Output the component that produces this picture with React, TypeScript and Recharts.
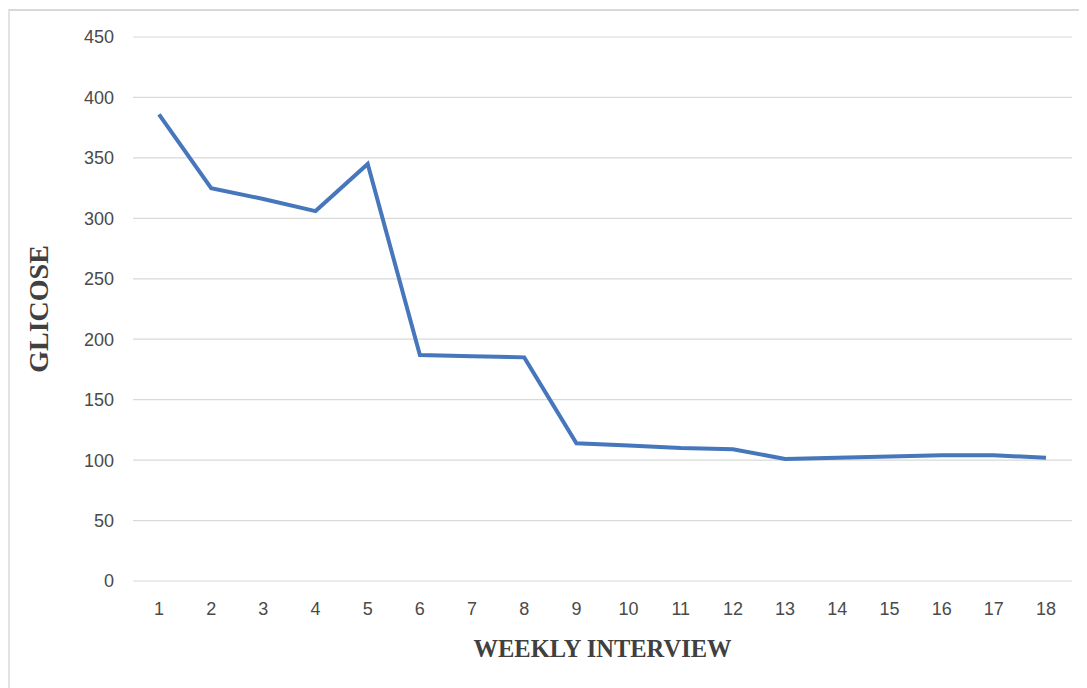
import { LineChart, Line, XAxis, YAxis, CartesianGrid, Label } from "recharts";

const WEEKS = [
  "1", "2", "3", "4", "5", "6", "7", "8", "9",
  "10", "11", "12", "13", "14", "15", "16", "17", "18",
];
const GLICOSE = [
  386, 325, 316, 306, 345, 187, 186, 185, 114,
  112, 110, 109, 101, 102, 103, 104, 104, 102,
];
const Y_TICKS = [0, 50, 100, 150, 200, 250, 300, 350, 400, 450];

const tickStyle = { fontSize: 18, fill: "#4a4a4a", fontFamily: "'Liberation Sans', Arial, sans-serif" };
const titleFont = "'Liberation Serif', 'Times New Roman', serif";

export default function App() {
  const data = WEEKS.map((w, i) => ({ week: w, glicose: GLICOSE[i] }));

  return (
    <div style={{ position: "relative", width: 1079, height: 680, background: "#fff" }}>
      <div
        style={{
          position: "absolute",
          top: 1,
          left: 0,
          width: 1079,
          height: 679,
          borderTop: "2px solid #d9d9d9",
          borderLeft: "2px solid #e3e3e3",
          boxSizing: "border-box",
        }}
      />
      <LineChart
        width={1079}
        height={680}
        data={data}
        margin={{ top: 29, right: 15, bottom: 77, left: 0 }}
        style={{ position: "absolute", top: 0, left: 0 }}
      >
        <CartesianGrid vertical={false} stroke="#d9d9d9" strokeWidth={1.2} />
        <XAxis
          dataKey="week"
          axisLine={false}
          tickLine={false}
          tick={tickStyle}
          tickMargin={15}
          interval={0}
          padding={{ left: 26, right: 26 }}
        >
          <Label
            value="WEEKLY INTERVIEW"
            position="bottom"
            offset={29}
            style={{ fontSize: 24.5, fontWeight: 700, fill: "#404040", fontFamily: titleFont }}
          />
        </XAxis>
        <YAxis
          width={125}
          domain={[0, 450]}
          ticks={Y_TICKS}
          axisLine={false}
          tickLine={false}
          tick={tickStyle}
          tickMargin={13}
          interval={0}
        >
          <Label
            value="GLICOSE"
            angle={-90}
            position="insideLeft"
            offset={30}
            style={{ fontSize: 28, fontWeight: 700, fill: "#404040", fontFamily: titleFont, textAnchor: "middle" }}
          />
        </YAxis>
        <Line
          type="linear"
          dataKey="glicose"
          stroke="#4676bb"
          strokeWidth={4}
          dot={false}
          isAnimationActive={false}
        />
      </LineChart>
    </div>
  );
}
